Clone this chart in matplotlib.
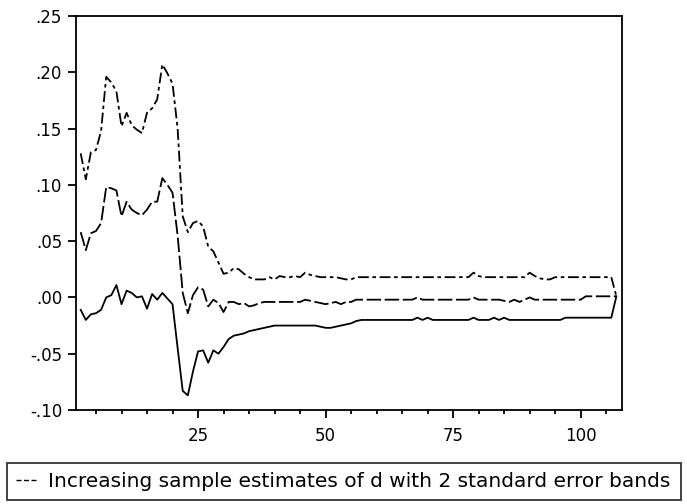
import matplotlib
matplotlib.use("Agg")
import matplotlib.pyplot as plt
from matplotlib.ticker import MultipleLocator, FixedLocator, FuncFormatter
from matplotlib.lines import Line2D

plt.rcParams['font.family'] = ['DejaVu Sans']

# observation index of the recursive estimates
obs = list(range(2, 108))

# upper band (+2 s.e.)
upper = [0.128, 0.105, 0.129, 0.131, 0.148, 0.196, 0.191, 0.183, 0.152, 0.164,
         0.153, 0.149, 0.146, 0.164, 0.168, 0.176, 0.207, 0.199, 0.190, 0.150,
         0.072, 0.058, 0.066, 0.068, 0.063, 0.045, 0.041, 0.031, 0.021, 0.022,
         0.026, 0.025, 0.021, 0.018, 0.016, 0.016, 0.016, 0.018, 0.016, 0.019,
         0.018, 0.018, 0.019, 0.018, 0.022, 0.020, 0.019, 0.018, 0.018, 0.018,
         0.018, 0.017, 0.016, 0.016, 0.018, 0.018, 0.018, 0.018, 0.018, 0.018,
         0.018, 0.018, 0.018, 0.018, 0.018, 0.018, 0.018, 0.018, 0.018, 0.018,
         0.018, 0.018, 0.018, 0.018, 0.018, 0.018, 0.018, 0.022, 0.019, 0.018,
         0.018, 0.018, 0.018, 0.018, 0.018, 0.018, 0.018, 0.018, 0.022, 0.019,
         0.017, 0.016, 0.016, 0.018, 0.018, 0.018, 0.018, 0.018, 0.018, 0.018,
         0.018, 0.018, 0.018, 0.018, 0.018, 0.001]

# recursive estimate of d
estimate = [0.058, 0.042, 0.057, 0.059, 0.066, 0.098, 0.097, 0.095, 0.072, 0.085,
            0.078, 0.075, 0.073, 0.078, 0.085, 0.085, 0.106, 0.100, 0.093, 0.055,
            0.004, -0.014, 0.002, 0.009, 0.007, -0.008, -0.002, -0.005, -0.013, -0.004,
            -0.004, -0.006, -0.005, -0.008, -0.007, -0.005, -0.004, -0.004, -0.004, -0.004,
            -0.004, -0.004, -0.004, -0.004, -0.002, -0.003, -0.004, -0.005, -0.006, -0.005,
            -0.004, -0.006, -0.004, -0.004, -0.002, -0.002, -0.002, -0.002, -0.002, -0.002,
            -0.002, -0.002, -0.002, -0.002, -0.002, -0.002, 0.000, -0.002, -0.002, -0.002,
            -0.002, -0.002, -0.002, -0.002, -0.002, -0.002, -0.002, 0.000, -0.002, -0.002,
            -0.002, -0.002, -0.002, -0.003, -0.004, -0.002, -0.004, -0.002, 0.000, -0.002,
            -0.002, -0.002, -0.002, -0.002, -0.002, -0.002, -0.002, -0.002, -0.002, 0.001,
            0.001, 0.001, 0.001, 0.001, 0.001, 0.001]

# lower band (-2 s.e.)
lower = [-0.011, -0.020, -0.015, -0.014, -0.011, 0.000, 0.002, 0.011, -0.006, 0.006,
         0.004, 0.000, 0.001, -0.010, 0.003, -0.002, 0.004, -0.001, -0.006, -0.045,
         -0.083, -0.087, -0.066, -0.048, -0.047, -0.058, -0.047, -0.050, -0.044, -0.037,
         -0.034, -0.033, -0.032, -0.030, -0.029, -0.028, -0.027, -0.026, -0.025, -0.025,
         -0.025, -0.025, -0.025, -0.025, -0.025, -0.025, -0.025, -0.026, -0.027, -0.027,
         -0.026, -0.025, -0.024, -0.023, -0.021, -0.020, -0.020, -0.020, -0.020, -0.020,
         -0.020, -0.020, -0.020, -0.020, -0.020, -0.020, -0.018, -0.020, -0.018, -0.020,
         -0.020, -0.020, -0.020, -0.020, -0.020, -0.020, -0.020, -0.018, -0.020, -0.020,
         -0.020, -0.018, -0.020, -0.018, -0.020, -0.020, -0.020, -0.020, -0.020, -0.020,
         -0.020, -0.020, -0.020, -0.020, -0.020, -0.018, -0.018, -0.018, -0.018, -0.018,
         -0.018, -0.018, -0.018, -0.018, -0.018, 0.001]

legend_label = "Increasing sample estimates of d with 2 standard error bands"

W, H = 687, 504
fig = plt.figure(figsize=(W / 100, H / 100), dpi=100)
ax = fig.add_axes([76 / W, 1 - 410 / H, 546 / W, 394 / H])

ax.plot(obs, upper, color='black', lw=1.3, linestyle=(0, (6, 2, 2, 2)))
ax.plot(obs, estimate, color='black', lw=1.3, linestyle=(0, (8, 2)))
ax.plot(obs, lower, color='black', lw=1.3, linestyle='-')

ax.set_xlim(1.08, 108.1)
ax.set_ylim(-0.10, 0.25)

ax.xaxis.set_major_locator(FixedLocator([25, 50, 75, 100]))
ax.xaxis.set_minor_locator(FixedLocator([x for x in range(5, 110, 5) if x % 25]))
ax.yaxis.set_major_locator(MultipleLocator(0.05))
ax.yaxis.set_major_formatter(FuncFormatter(lambda v, p: ('%.2f' % v).replace('0.', '.')))

ax.tick_params(axis='both', which='major', direction='out', length=6, width=1.3,
               labelsize=12, top=False, right=False, pad=4)
ax.tick_params(axis='x', which='major', pad=6)
ax.tick_params(axis='x', which='minor', direction='out', length=3, width=1.3, top=False)
for s in ax.spines.values():
    s.set_linewidth(1.3)

handle = Line2D([], [], color='black', lw=1.0, linestyle=(0, (3.6, 1.8)))
leg = fig.legend([handle], [legend_label], loc='lower left',
                 bbox_to_anchor=(7 / W, 1 - 500 / H, 674 / W, 34 / H),
                 mode='expand', frameon=True, fancybox=False, fontsize=14.5,
                 handlelength=1.05, handletextpad=0.55, borderaxespad=0,
                 borderpad=0.45)
leg.get_frame().set_edgecolor('black')
leg.get_frame().set_linewidth(1.3)

fig.savefig('out.png', dpi=100)
